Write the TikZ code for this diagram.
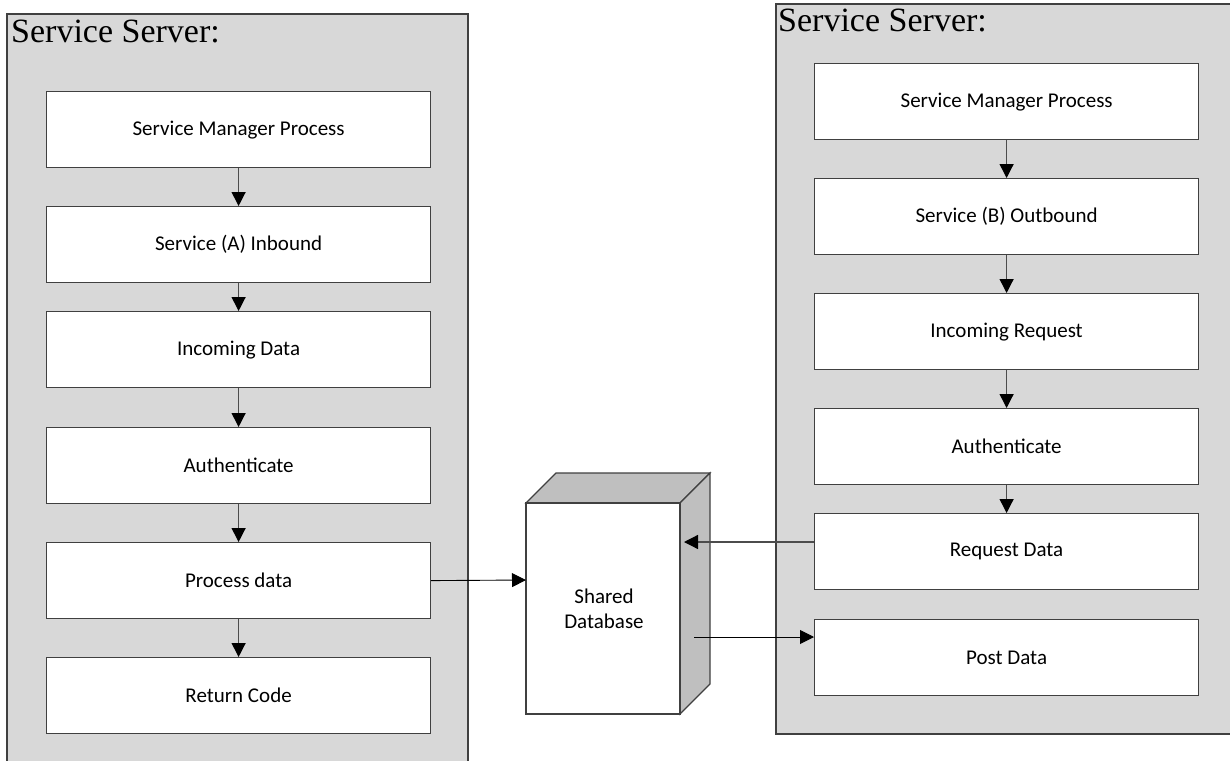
\documentclass[tikz,border=0pt]{standalone}
\usepackage{fontspec}
\setmainfont{Carlito}
\newfontfamily\headfont{Liberation Serif}
\usetikzlibrary{arrows.meta}
\definecolor{panelgray}{HTML}{D8D8D8}
\definecolor{sidegray}{HTML}{BFBFBF}
\tikzset{
	panel/.style={draw=black!75,fill=panelgray,line width=1.2pt},
	procbox/.style={draw=black!75,fill=white,line width=1.2pt,anchor=north west,minimum width=384pt,minimum height=76pt,inner sep=0pt,font=\fontsize{21}{25}\selectfont},
	headlabel/.style={anchor=base west,inner sep=0pt,font=\headfont\fontsize{34}{38}\selectfont},
	flow/.style={draw=black!70,line width=1.3pt,-{Triangle[length=14pt,width=14pt,fill=black,color=black]}},
	thinflow/.style={draw=black,line width=0.9pt,-{Triangle[length=14pt,width=14pt,fill=black,color=black]}},
	dbface/.style={draw=black!75,line width=1.2pt},
}
\begin{document}
\begin{tikzpicture}[x=1pt,y=-1pt]
\useasboundingbox (0,0) rectangle (1230,760);

% server panels
\coordinate (lp1) at (7,14);
\coordinate (lp2) at (468,775);
\coordinate (rp1) at (776,4);
\coordinate (rp2) at (1240,734);
\draw[panel] (lp1) rectangle (lp2);
\draw[panel] (rp1) rectangle (rp2);
\node (ltitle) [headlabel] at (11,42) {Service Server:};
\node (rtitle) [headlabel] at (778,32) {Service Server:};

% left column
\foreach \n/\y/\t in {l1/91/Service Manager Process,l2/206/Service (A) Inbound,l3/311/Incoming Data,l4/427/Authenticate,l5/542/Process data,l6/657/Return Code}{
	\node (\n) [procbox] at (46,\y) {\t};
}
% right column
\foreach \n/\y/\t in {r1/63/Service Manager Process,r2/178/Service (B) Outbound,r3/293/Incoming Request,r4/408/Authenticate,r5/513/Request Data,r6/619/Post Data}{
	\node (\n) [procbox] at (814,\y) {\t};
}

% database block
\coordinate (d1) at (526,503);
\coordinate (d2) at (680,503);
\coordinate (d3) at (680,714);
\coordinate (d4) at (526,714);
\coordinate (d5) at (556,473);
\coordinate (d6) at (710,473);
\coordinate (d7) at (710,684);
\draw[dbface,fill=sidegray] (d1) -- (d5) -- (d6) -- (d2) -- cycle;
\draw[dbface,fill=sidegray] (d2) -- (d6) -- (d7) -- (d3) -- cycle;
\draw[dbface,fill=white] (d1) rectangle (d3);
\node (db) [align=center,font=\fontsize{21}{25}\selectfont] at (604,609) {Shared\\Database};

\foreach \a/\b in {l1/l2,l2/l3,l3/l4,l4/l5,l5/l6,r1/r2,r2/r3,r3/r4,r4/r5}{
	\draw[flow] (\a) -- (\b);
}
\coordinate (dbin) at (526,580);
\coordinate (dbreq) at (684,542);
\coordinate (dbpost) at (694,637);
\draw[thinflow] (l5.east) -- (dbin);
\draw[flow] (r5.west|-dbreq) -- (dbreq);
\draw[thinflow] (dbpost) -- (r6.west|-dbpost);
\end{tikzpicture}
\end{document}
